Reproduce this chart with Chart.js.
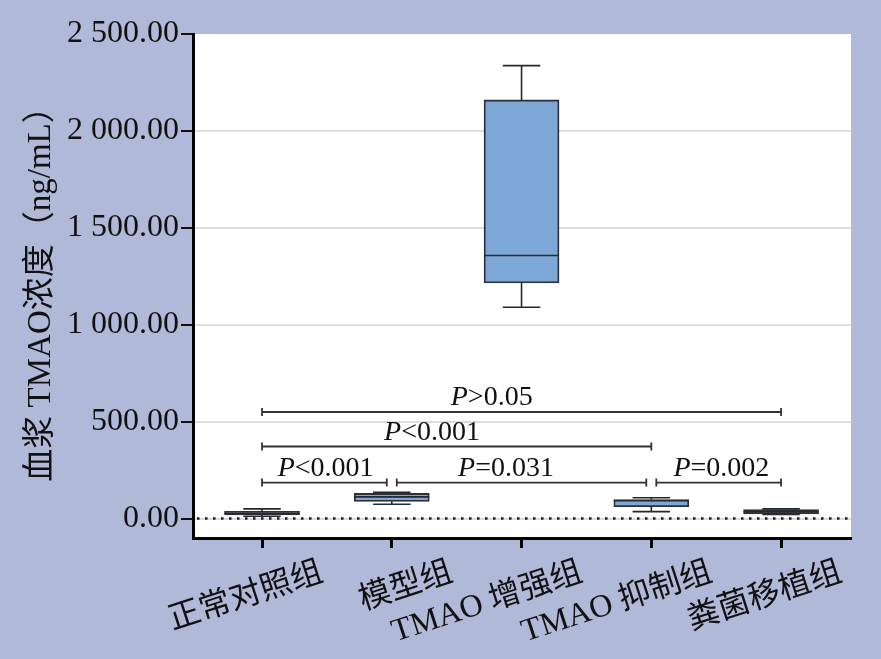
<!DOCTYPE html>
<html>
<head>
<meta charset="utf-8">
<script src="https://cdn.jsdelivr.net/npm/chart.js@4.4.1/dist/chart.umd.min.js"></script>
<style>
  html, body { margin: 0; padding: 0; background: #B1B9D9; }
  canvas { display: block; }
</style>
</head>
<body>
<canvas id="myChart" width="881" height="659"></canvas>
<script>
// groups and box plot values (ng/mL)
const groups = ['正常对照组', '模型组', 'TMAO 增强组', 'TMAO 抑制组', '粪菌移植组'];
const whiskerLow = [12, 74, 1090, 36, 21];
const boxLow = [19, 89, 1216, 62, 24];
const medians = [27, 112, 1357, 92, 35];
const boxHigh = [37, 130, 2160, 98, 46];
const whiskerHigh = [50, 136, 2337, 108, 50];
const yTicks = [0, 500, 1000, 1500, 2000, 2500];

// significance brackets
const sigFrom = [0, 1, 3, 0, 0];
const sigTo = [1, 3, 4, 3, 4];
const sigLevel = [186, 186, 186, 372, 550];
const sigLabels = ['<0.001', '=0.031', '=0.002', '<0.001', '>0.05'];
const sigLabelAt = [0.49, 1.88, 3.54, 1.31, 1.77];

const boxColors = ['#B8767E', '#7DA7D6', '#7DA7D6', '#7DA7D6', '#B8767E'];
const serif = '"Liberation Serif", "Times New Roman", "Noto Sans CJK SC", serif';

function fmt(v) {
    const parts = Number(v).toFixed(2).split('.');
    return parts[0].replace(/\B(?=(\d{3})+(?!\d))/g, ' ') + '.' + parts[1];
}

const boxPlot = {
    id: 'boxPlot',
    beforeDraw(chart) {
        const { ctx, chartArea: a } = chart;
        ctx.save();
        ctx.fillStyle = '#B1B9D9';
        ctx.fillRect(0, 0, chart.width, chart.height);
        ctx.fillStyle = '#ffffff';
        ctx.fillRect(a.left, a.top, a.right - a.left, a.bottom - a.top);
        ctx.restore();
    },
    beforeDatasetsDraw(chart) {
        // dotted line at zero
        const { ctx, chartArea: a, scales: { y } } = chart;
        const y0 = y.getPixelForValue(0);
        ctx.save();
        ctx.strokeStyle = '#1a1a1a';
        ctx.lineWidth = 2.5;
        ctx.setLineDash([2.5, 5.5]);
        ctx.beginPath();
        ctx.moveTo(a.left + 4, y0);
        ctx.lineTo(a.right, y0);
        ctx.stroke();
        ctx.restore();
    },
    afterDatasetsDraw(chart) {
        const { ctx, scales: { x, y } } = chart;
        const bars = chart.getDatasetMeta(0).data;
        ctx.save();

        // whiskers and medians
        ctx.strokeStyle = '#25292d';
        ctx.lineWidth = 1.6;
        groups.forEach((g, i) => {
            const px = x.getPixelForValue(i);
            const cap = bars[i].width / 4;
            const half = bars[i].width / 2;
            const yHi = y.getPixelForValue(whiskerHigh[i]);
            const yLo = y.getPixelForValue(whiskerLow[i]);
            const yMed = y.getPixelForValue(medians[i]);
            ctx.beginPath();
            ctx.moveTo(px, y.getPixelForValue(boxHigh[i]));
            ctx.lineTo(px, yHi);
            ctx.moveTo(px, y.getPixelForValue(boxLow[i]));
            ctx.lineTo(px, yLo);
            ctx.moveTo(px - cap, yHi);
            ctx.lineTo(px + cap, yHi);
            ctx.moveTo(px - cap, yLo);
            ctx.lineTo(px + cap, yLo);
            ctx.moveTo(px - half, yMed);
            ctx.lineTo(px + half, yMed);
            ctx.stroke();
        });

        // significance brackets
        ctx.strokeStyle = '#333';
        ctx.lineWidth = 1.8;
        ctx.fillStyle = '#111';
        ctx.textBaseline = 'alphabetic';
        sigFrom.forEach((from, k) => {
            const shared = idx => sigFrom.some((f, j) => j !== k && sigLevel[j] === sigLevel[k] && (f === idx || sigTo[j] === idx));
            const x1 = x.getPixelForValue(from) + (shared(from) ? 5 : 0);
            const x2 = x.getPixelForValue(sigTo[k]) - (shared(sigTo[k]) ? 5 : 0);
            const py = y.getPixelForValue(sigLevel[k]);
            ctx.beginPath();
            ctx.moveTo(x1, py);
            ctx.lineTo(x2, py);
            ctx.moveTo(x1, py - 4);
            ctx.lineTo(x1, py + 4);
            ctx.moveTo(x2, py - 4);
            ctx.lineTo(x2, py + 4);
            ctx.stroke();

            ctx.font = 'italic 28px ' + serif;
            const wP = ctx.measureText('P').width;
            ctx.font = '28px ' + serif;
            const wR = ctx.measureText(sigLabels[k]).width;
            const start = x.getPixelForValue(sigLabelAt[k]) - (wP + wR) / 2;
            ctx.textAlign = 'left';
            ctx.font = 'italic 28px ' + serif;
            ctx.fillText('P', start, py - 7);
            ctx.font = '28px ' + serif;
            ctx.fillText(sigLabels[k], start + wP, py - 7);
        });

        // rotated category labels
        ctx.font = '32px ' + serif;
        ctx.textAlign = 'right';
        ctx.textBaseline = 'top';
        groups.forEach((g, i) => {
            const px = x.getPixelForValue(i);
            ctx.save();
            ctx.translate(px + 55, 557);
            ctx.rotate(-18 * Math.PI / 180);
            ctx.fillText(g, 0, 0);
            ctx.restore();
        });
        ctx.restore();
    }
};

new Chart(document.getElementById('myChart'), {
    type: 'bar',
    data: {
        datasets: [{
            data: groups.map((g, i) => ({ x: i, y: [boxLow[i], boxHigh[i]] })),
            backgroundColor: boxColors,
            borderColor: '#2a3036',
            borderWidth: 1.8,
            borderSkipped: false,
            barThickness: 75
        }]
    },
    options: {
        responsive: false,
        animation: false,
        layout: { padding: { left: 0, right: 30, top: 34, bottom: 0 } },
        plugins: { legend: { display: false }, tooltip: { enabled: false } },
        scales: {
            x: {
                type: 'linear',
                min: -0.532,
                max: 4.539,
                offset: false,
                afterBuildTicks: s => { s.ticks = groups.map((g, i) => ({ value: i })); },
                afterFit: s => { s.height = 121; },
                ticks: { display: false },
                grid: { offset: false, drawOnChartArea: false, tickLength: 10, tickColor: '#000', tickWidth: 3 },
                border: { color: '#000', width: 3 }
            },
            y: {
                min: -100,
                max: 2500,
                afterBuildTicks: s => { s.ticks = yTicks.map(v => ({ value: v })); },
                afterFit: s => { s.width = 193; },
                ticks: {
                    font: { family: serif, size: 32 },
                    color: '#111',
                    padding: 2,
                    callback: v => fmt(v)
                },
                grid: {
                    color: c => (c.tick && c.tick.value === 2500) ? 'rgba(0,0,0,0)' : '#dcdcdc',
                    lineWidth: 2,
                    tickColor: '#111',
                    tickWidth: 2,
                    tickLength: 12
                },
                border: { color: '#000', width: 3 },
                title: {
                    display: true,
                    text: '血浆 TMAO浓度（ng/mL）',
                    font: { family: serif, size: 33 },
                    color: '#111',
                    padding: { top: 22 }
                }
            }
        }
    },
    plugins: [boxPlot]
});
</script>
</body>
</html>
